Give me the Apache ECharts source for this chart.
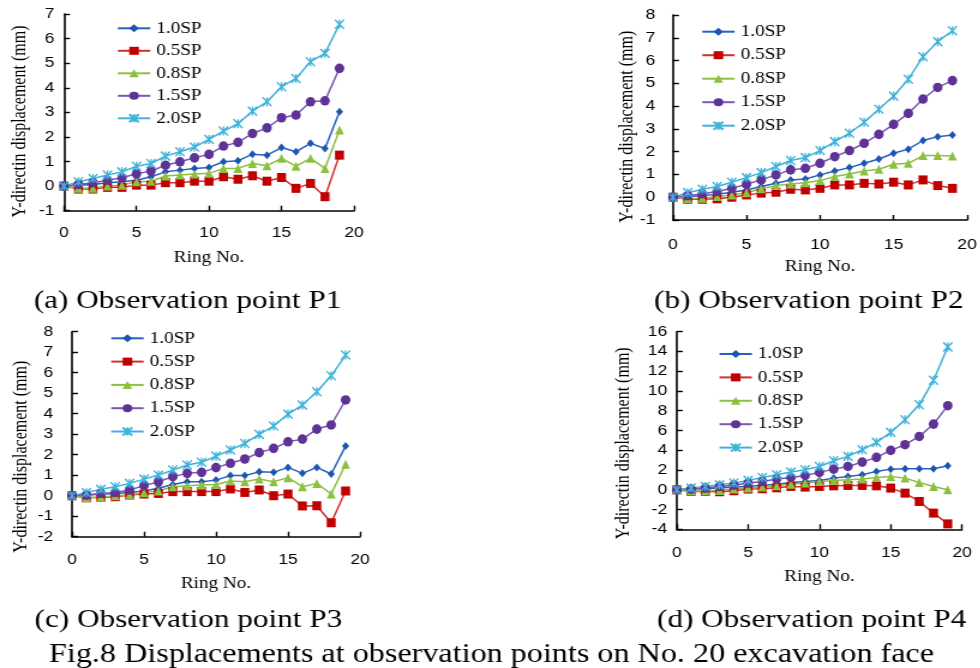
<!DOCTYPE html>
<html>
<head>
<meta charset="utf-8">
<script src="https://cdn.jsdelivr.net/npm/echarts@6/dist/echarts.min.js"></script>
<style>
html, body { margin: 0; padding: 0; background: #fff; overflow: hidden; }
/* the source figure is stretched sideways, so draw narrow and widen */
#chart { width: 817px; height: 668px; transform: scaleX(1.2); transform-origin: 0 0; }
</style>
</head>
<body>
<div id="chart"></div>
<script>
const ring = [0, 1, 2, 3, 4, 5, 6, 7, 8, 9, 10, 11, 12, 13, 14, 15, 16, 17, 18, 19];
const seriesNames = ['1.0SP', '0.5SP', '0.8SP', '1.5SP', '2.0SP'];

// P1
const p1_10 = [0, 0.04, 0.07, 0.14, 0.18, 0.24, 0.38, 0.58, 0.65, 0.72, 0.76, 0.99, 1.03, 1.3, 1.26, 1.57, 1.4, 1.74, 1.53, 3.02];
const p1_05 = [0, -0.12, -0.12, -0.05, -0.05, 0.04, 0.04, 0.14, 0.14, 0.2, 0.2, 0.38, 0.28, 0.42, 0.2, 0.35, -0.09, 0.11, -0.43, 1.26];
const p1_08 = [0, -0.09, -0.09, 0, 0.04, 0.18, 0.2, 0.41, 0.45, 0.49, 0.52, 0.72, 0.72, 0.92, 0.83, 1.13, 0.81, 1.13, 0.72, 2.28];
const p1_15 = [0, 0.07, 0.14, 0.24, 0.34, 0.5, 0.61, 0.85, 0.99, 1.15, 1.29, 1.63, 1.78, 2.14, 2.37, 2.78, 2.89, 3.43, 3.47, 4.79];
const p1_20 = [0, 0.18, 0.31, 0.45, 0.58, 0.81, 0.92, 1.22, 1.4, 1.59, 1.9, 2.24, 2.54, 3.05, 3.43, 4.04, 4.38, 5.06, 5.4, 6.58];
// P2
const p2_10 = [0, 0.03, 0.07, 0.13, 0.22, 0.32, 0.47, 0.61, 0.76, 0.8, 0.98, 1.15, 1.3, 1.49, 1.68, 1.93, 2.11, 2.49, 2.66, 2.73];
const p2_05 = [0, -0.09, -0.09, -0.07, 0, 0.1, 0.18, 0.22, 0.35, 0.32, 0.39, 0.54, 0.54, 0.61, 0.58, 0.66, 0.54, 0.76, 0.51, 0.39];
const p2_08 = [0, -0.07, -0.04, 0.03, 0.1, 0.2, 0.37, 0.51, 0.58, 0.64, 0.73, 0.91, 1.02, 1.15, 1.23, 1.45, 1.49, 1.83, 1.83, 1.81];
const p2_15 = [0, 0.07, 0.15, 0.25, 0.39, 0.57, 0.76, 0.98, 1.2, 1.27, 1.49, 1.78, 2.05, 2.37, 2.76, 3.2, 3.68, 4.31, 4.82, 5.12];
const p2_20 = [0, 0.2, 0.35, 0.47, 0.66, 0.86, 1.08, 1.35, 1.61, 1.74, 2.05, 2.44, 2.81, 3.29, 3.86, 4.44, 5.18, 6.17, 6.83, 7.31];
// P3
const p3_10 = [0, 0.03, 0.07, 0.11, 0.16, 0.23, 0.36, 0.55, 0.68, 0.68, 0.76, 0.98, 0.98, 1.17, 1.14, 1.38, 1.09, 1.38, 1.06, 2.42];
const p3_05 = [0, -0.1, -0.08, -0.05, 0.03, 0.08, 0.11, 0.2, 0.2, 0.2, 0.2, 0.33, 0.16, 0.28, 0, 0.08, -0.5, -0.49, -1.32, 0.23];
const p3_08 = [0, -0.1, -0.08, 0, 0.03, 0.15, 0.23, 0.44, 0.49, 0.52, 0.55, 0.72, 0.68, 0.81, 0.68, 0.88, 0.44, 0.6, 0.08, 1.54];
const p3_15 = [0, 0.03, 0.11, 0.16, 0.28, 0.49, 0.68, 0.93, 1.09, 1.14, 1.37, 1.58, 1.79, 2.1, 2.31, 2.63, 2.76, 3.25, 3.45, 4.67];
const p3_20 = [0, 0.15, 0.31, 0.44, 0.6, 0.81, 1.01, 1.25, 1.5, 1.63, 1.93, 2.23, 2.55, 2.99, 3.4, 3.98, 4.42, 5.07, 5.85, 6.86];
// P4
const p4_10 = [0, 0.07, 0.1, 0.17, 0.27, 0.34, 0.47, 0.57, 0.74, 0.84, 0.95, 1.18, 1.35, 1.52, 1.86, 2.09, 2.13, 2.13, 2.13, 2.43];
const p4_05 = [0, -0.17, -0.17, -0.2, -0.1, 0.07, 0.1, 0.2, 0.34, 0.27, 0.34, 0.4, 0.44, 0.44, 0.4, 0.17, -0.34, -1.18, -2.36, -3.45];
const p4_08 = [0, -0.13, -0.13, -0.07, 0.07, 0.17, 0.27, 0.4, 0.57, 0.68, 0.84, 0.95, 1.01, 1.08, 1.25, 1.35, 1.18, 0.74, 0.34, 0];
const p4_15 = [0, 0.07, 0.17, 0.34, 0.47, 0.68, 0.84, 1.08, 1.25, 1.45, 1.76, 2.09, 2.36, 2.8, 3.28, 3.99, 4.56, 5.4, 6.65, 8.51];
const p4_20 = [0, 0.17, 0.34, 0.5, 0.68, 0.95, 1.25, 1.52, 1.79, 2.03, 2.36, 2.94, 3.38, 4.05, 4.8, 5.81, 7.09, 8.6, 11.08, 14.46];

const captions = ['(a) Observation point P1', '(b) Observation point P2', '(c) Observation point P3', '(d) Observation point P4'];
const figTitle = 'Fig.8 Displacements at observation points on No. 20 excavation face';
const yTitle = 'Y-directin displacement (mm)';
const xTitle = 'Ring No.';

const serif = 'Liberation Serif, Times New Roman, serif';
const sans = 'Liberation Sans, Arial, sans-serif';

const looks = [
    { line: '#2461c2', mark: '#1d55b0', symbol: 'diamond', size: [6, 8] },
    { line: '#d22f2f', mark: '#c00000', symbol: 'rect', size: [7.5, 9] },
    { line: '#8cc040', mark: '#8cc040', symbol: 'triangle', size: [7.5, 9] },
    { line: '#7a56b8', mark: '#5f3296', symbol: 'circle', size: [8, 9.6] },
    { line: '#3fb2da', mark: '#3fb2da', symbol: 'path://M0,0L10,10M10,0L0,10M5,0L5,10', size: [7.5, 9] }
];

const panels = [
    { data: [p1_10, p1_05, p1_08, p1_15, p1_20], y: [-1, 7, 1],
      grid: { left: 53.3, top: 14, width: 241.7, height: 196.7 }, yMargin: 8, xMargin: 15,
      legend: { left: 97.2, top: 20.3, gap: 6.5 }, yName: [16.7, 121.5], cap: [156.3, 301] },
    { data: [p2_10, p2_05, p2_08, p2_15, p2_20], y: [-1, 8, 1],
      grid: { left: 560.8, top: 15, width: 246.7, height: 205 }, yMargin: 14.7, xMargin: 17,
      legend: { left: 584.2, top: 23.7, gap: 7.5 }, yName: [522.5, 126.7], cap: [674, 301] },
    { data: [p3_10, p3_05, p3_08, p3_15, p3_20], y: [-2, 8, 1],
      grid: { left: 60, top: 331.7, width: 240, height: 205 }, yMargin: 15.6, xMargin: 15.5,
      legend: { left: 91.7, top: 330.3, gap: 7.3 }, yName: [18, 456.7], cap: [157, 620] },
    { data: [p4_10, p4_05, p4_08, p4_15, p4_20], y: [-4, 16, 2],
      grid: { left: 564, top: 331.7, width: 237.7, height: 197.6 }, yMargin: 8, xMargin: 16,
      legend: { left: 598.6, top: 346, gap: 7.4 }, yName: [519.4, 443.3], cap: [676.4, 620] }
];

const axisLine = { show: true, onZero: false, lineStyle: { color: '#000', width: 1.6 } };
const axisTick = { show: true, inside: true, length: 5, lineStyle: { color: '#000', width: 1.4 } };

const grid = [], xAxis = [], yAxis = [], legend = [], series = [], graphic = [];

panels.forEach((p, k) => {
    grid.push(p.grid);
    xAxis.push({
        type: 'value', gridIndex: k, min: 0, max: 20, interval: 5,
        axisLine, axisTick, splitLine: { show: false },
        axisLabel: { color: '#000', fontFamily: sans, fontSize: 14.5, margin: p.xMargin },
        name: xTitle, nameLocation: 'middle', nameGap: 39,
        nameTextStyle: { color: '#000', fontFamily: serif, fontSize: 16 }
    });
    yAxis.push({
        type: 'value', gridIndex: k, min: p.y[0], max: p.y[1], interval: p.y[2],
        axisLine, axisTick, splitLine: { show: false },
        axisLabel: { color: '#000', fontFamily: sans, fontSize: 14.5, margin: p.yMargin }
    });
    legend.push({
        orient: 'vertical', left: p.legend.left, top: p.legend.top, itemGap: p.legend.gap,
        itemWidth: 27, itemHeight: 10, padding: 0, data: seriesNames,
        textStyle: { color: '#000', fontFamily: serif, fontSize: 16, lineHeight: 16 }
    });
    p.data.forEach((vals, i) => {
        const lk = looks[i];
        series.push({
            type: 'line', name: seriesNames[i], xAxisIndex: k, yAxisIndex: k,
            data: vals.map((v, j) => [ring[j], v]),
            symbol: lk.symbol, symbolSize: lk.size, showAllSymbol: true,
            lineStyle: { color: lk.line, width: 1.5 },
            itemStyle: { color: lk.mark, borderColor: lk.mark, borderWidth: i === 4 ? 1.4 : 0 },
            emphasis: { disabled: true }
        });
    });
    graphic.push({
        type: 'text', x: p.yName[0], y: p.yName[1], rotation: Math.PI / 2,
        style: { text: yTitle, fill: '#000', font: '16px ' + serif, align: 'center', verticalAlign: 'middle' }
    });
    graphic.push({
        type: 'text', x: p.cap[0], y: p.cap[1],
        style: { text: captions[k], fill: '#000', font: '26px ' + serif, align: 'center', verticalAlign: 'middle' }
    });
});

graphic.push({
    type: 'text', x: 409.6, y: 655,
    style: { text: figTitle, fill: '#000', font: '26.8px ' + serif, align: 'center', verticalAlign: 'middle' }
});

const chart = echarts.init(document.getElementById('chart'));
chart.setOption({
    animation: false,
    backgroundColor: '#fff',
    grid, xAxis, yAxis, legend, series, graphic
});
</script>
</body>
</html>
